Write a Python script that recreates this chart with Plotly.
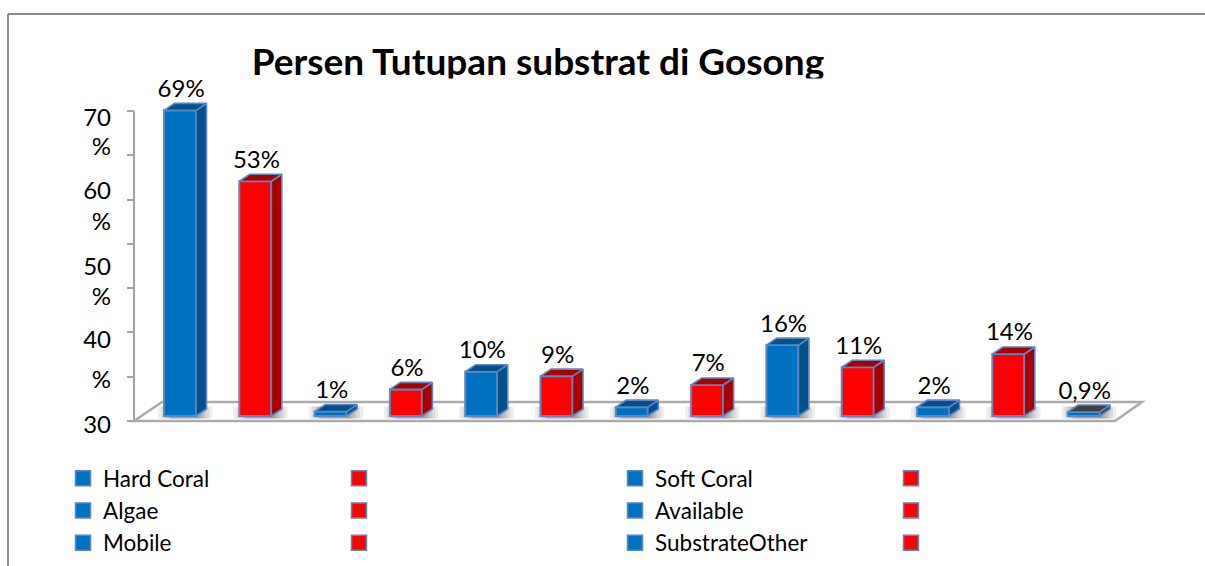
import plotly.graph_objects as go

# ---- data ----
series_names = ["Hard Coral", " ", "Soft Coral", " ", "Algae", " ", "Available", " ",
                "Mobile", " ", "SubstrateOther", " ", "Other"]
values = [69, 53, 1, 6, 10, 9, 2, 7, 16, 11, 2, 14, 0.9]
value_labels = ["69%", "53%", "1%", "6%", "10%", "9%", "2%", "7%", "16%", "11%", "2%", "14%", "0,9%"]
front_colors = ["#0070C0", "#FF0000"] * 6 + ["#0070C0"]
dark_colors = ["#04508A", "#A80000"] * 6 + ["#404040"]
ytick_positions = [68.5, 61.9, 52.1, 44.9, 34.9, 28.0, 18.4, 9.25, -0.7]
ytick_labels = ["70", "%", "60", "%", "50", "%", "40", "%", "30"]
axis_marks = [0, 10, 20, 30, 40, 50, 60, 70]
title_text = "Persen Tutupan substrat di Gosong"

# ---- page geometry ----
W, H = 1205, 566
FONT = "Lato"
PX_PER_CAT = 75.3
PX_FIRST = 180.0
PX_PER_UNIT = 4.43
PY_ZERO = 421.0


def cx(px):
    return (px - PX_FIRST) / PX_PER_CAT


def cy(py):
    return (PY_ZERO - py) / PX_PER_UNIT


BAR_W = 32 / PX_PER_CAT
DX = 10.5 / PX_PER_CAT
DY = 7 / PX_PER_UNIT
BASE = 5 / PX_PER_UNIT
EDGE = "#5B87C2"
AXIS_GREY = "#A6A6A6"
positions = list(range(len(values)))


def path(points):
    return "M" + "L".join(f"{x},{y}" for x, y in points) + "Z"


shapes = [
    dict(type="path", layer="below", xref="x", yref="y", fillcolor="#FFFFFF",
         line=dict(color="#ABABAB", width=2.5),
         path=path([(cx(134), cy(421)), (cx(162), cy(402)), (cx(1142), cy(402)), (cx(1115), cy(421))])),
]
for p in positions:
    c = p + DX / 2
    for half in (0.36, 0.32, 0.28, 0.25, 0.22, 0.19):
        shapes.append(dict(type="rect", layer="below", xref="x", yref="y",
                           x0=c - half, x1=c + half, y0=cy(418.5), y1=cy(406.5),
                           fillcolor="rgba(0,0,0,0.07)", line=dict(width=0)))
shapes += [
    dict(type="line", xref="paper", yref="paper", x0=8 / W, x1=1, y0=1 - 14 / H, y1=1 - 14 / H,
         line=dict(color="#8C8C8C", width=2)),
    dict(type="line", xref="paper", yref="paper", x0=8 / W, x1=8 / W, y0=0, y1=1 - 14 / H,
         line=dict(color="#8C8C8C", width=2)),
]

fig = go.Figure()

# front faces
for i, name in enumerate(series_names):
    fig.add_trace(go.Bar(
        x=[positions[i]], y=[values[i]], base=[BASE], width=BAR_W, name=name,
        marker=dict(color=front_colors[i], line=dict(color=EDGE, width=2)),
        showlegend=False, hoverinfo="skip"))

# legend keys
for i, name in enumerate(series_names[:12]):
    fig.add_trace(go.Scatter(
        x=[None], y=[None], mode="markers", name=name,
        marker=dict(symbol="square", size=15, color=front_colors[i], line=dict(color=EDGE, width=1.5))))

# top and side faces derived from the same values
for i, v in enumerate(values):
    l, r = positions[i] - BAR_W / 2, positions[i] + BAR_W / 2
    top = v + BASE
    side_x = [r, r + DX, r + DX, r, r]
    side_y = [BASE, BASE + DY, top + DY, top, BASE]
    top_x = [l, l + DX, r + DX, r, l]
    top_y = [top, top + DY, top + DY, top, top]
    for xs, ys in ((side_x, side_y), (top_x, top_y)):
        fig.add_trace(go.Scatter(x=xs, y=ys, mode="lines", fill="toself", fillcolor=dark_colors[i],
                                 line=dict(color=EDGE, width=1.6), showlegend=False, hoverinfo="skip"))

# value axis line
fig.add_trace(go.Scatter(x=[cx(134), cx(134)], y=[axis_marks[0], axis_marks[-1]], mode="lines",
                         line=dict(color=AXIS_GREY, width=2), showlegend=False, hoverinfo="skip"))

# data labels
fig.add_trace(go.Scatter(
    x=[p + 0.015 for p in positions], y=[v + BASE + DY + 12.5 / PX_PER_UNIT for v in values],
    mode="text", text=value_labels, textposition="middle center",
    textfont=dict(family=FONT, size=24, color="#000000"), showlegend=False, hoverinfo="skip"))

fig.update_layout(
    width=W, height=H, margin=dict(l=0, r=0, t=0, b=0), autosize=False,
    paper_bgcolor="#FFFFFF", plot_bgcolor="#FFFFFF", barmode="overlay", shapes=shapes,
    font=dict(family=FONT, color="#000000"),
    title=dict(text=f"<b>{title_text}</b>", x=538 / W, xanchor="center", xref="paper",
               y=1 - 62 / H, yanchor="middle", yref="paper",
               font=dict(family=FONT, size=37, color="#000000")),
    annotations=[dict(text=" ", xref="paper", yref="paper", x=538 / W, xanchor="center",
                      y=1 - 78 / H, yanchor="top", width=600, height=12, showarrow=False,
                      bgcolor="#FFFFFF", borderpad=0)],
    xaxis=dict(range=[cx(0), cx(W)], visible=False, domain=[0, 1]),
    yaxis=dict(range=[cy(H), cy(0)], domain=[0, 1], anchor="free", position=134 / W, side="left",
               showgrid=False, zeroline=False, showline=False,
               tickmode="array", tickvals=ytick_positions, ticktext=ytick_labels, ticks="",
               ticklabelstandoff=23, tickfont=dict(family=FONT, size=24, color="#000000"),
               minor=dict(tickmode="array", tickvals=axis_marks, ticks="outside", ticklen=7,
                          tickcolor=AXIS_GREY, tickwidth=2, showgrid=False)),
    legend=dict(orientation="h", x=63 / W, xanchor="left", y=1 - 457 / H, yanchor="top",
                entrywidth=231, entrywidthmode="pixels", traceorder="normal",
                bgcolor="rgba(0,0,0,0)", font=dict(family=FONT, size=22.5, color="#000000")),
)

fig.write_html("out.html", config=dict(displayModeBar=False),
               post_script="document.body.style.margin='0';document.body.style.overflow='hidden';")
